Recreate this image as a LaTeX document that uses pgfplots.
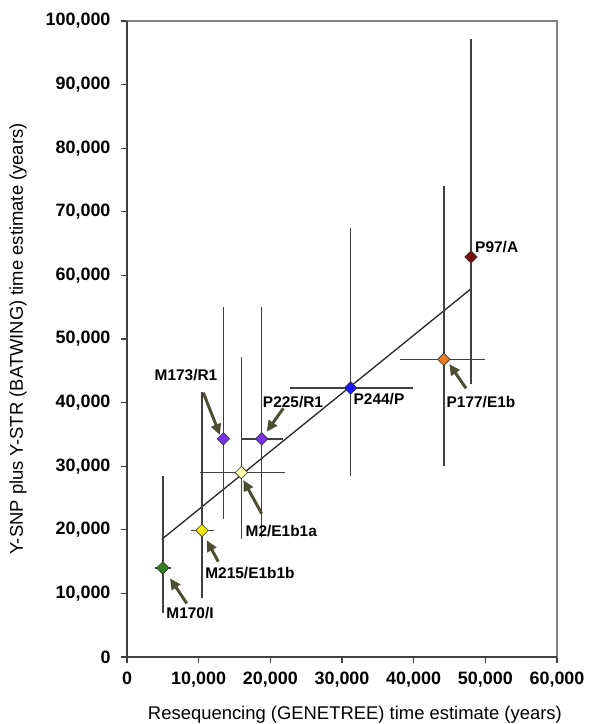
\documentclass[border=0pt]{standalone}
\usepackage{fontspec}
\setmainfont{Liberation Sans}
\usepackage{pgfplots}
\pgfplotsset{compat=1.18}
\usetikzlibrary{arrows.meta}
\definecolor{arrowc}{RGB}{78,78,52}
\definecolor{cgreen}{RGB}{50,125,30}
\definecolor{cyellow}{RGB}{245,232,10}
\definecolor{cpale}{RGB}{255,255,175}
\definecolor{cpurple}{RGB}{120,50,225}
\definecolor{cblue}{RGB}{25,25,250}
\definecolor{corange}{RGB}{240,120,30}
\definecolor{cdred}{RGB}{120,12,12}
\begin{document}
\begin{tikzpicture}
\useasboundingbox (-127bp,-67bp) rectangle (462bp,657bp);
\begin{axis}[
  at={(0,0)}, anchor=south west,
  scale only axis, width=430bp, height=636bp,
  xmin=0, xmax=60000, ymin=0, ymax=100000,
  scaled ticks=false,
  xtick={0,10000,20000,30000,40000,50000,60000},
  xticklabels={0,{10,000},{20,000},{30,000},{40,000},{50,000},{60,000}},
  ytick={0,10000,20000,30000,40000,50000,60000,70000,80000,90000,100000},
  yticklabels={0,{10,000},{20,000},{30,000},{40,000},{50,000},{60,000},{70,000},{80,000},{90,000},{100,000}},
  tick align=outside, tick pos=left, major tick length=6bp,
  tick style={black!75, line width=1.2bp},
  axis line style={black!50, line width=1.2bp},
  ticklabel style={font=\bfseries\fontsize{18}{20}\selectfont, text=black},
  yticklabel style={xshift=-7bp},
  xticklabel style={yshift=-5bp},
  xlabel={Resequencing (GENETREE) time estimate (years)},
  ylabel={Y-SNP plus Y-STR (BATWING) time estimate (years)},
  label style={font=\fontsize{18.5}{21}\selectfont},
  xlabel style={at={(axis description cs:0.530,-0.0912)}, anchor=center},
  ylabel style={at={(axis description cs:-0.2535,0.5)}, anchor=center},
  clip=false,
]
% axis emphasis (left and bottom)
\draw[black!75, line width=2bp] (rel axis cs:0,1) -- (rel axis cs:0,0) -- (rel axis cs:1,0);

% regression line
\addplot[black!85, line width=1.3bp] coordinates {(4850,18500) (47900,57800)};

\pgfplotsset{myerr/.style={only marks, mark=square*, mark size=4.4bp,
   error bars/.cd, x dir=both, y dir=both, x explicit, y explicit, error mark=none,
   error bar style={black!75, line width=1.5bp}, /pgfplots/.cd}}

% M170/I
\addplot[myerr, mark options={rotate=45, fill=cgreen, draw=black!80, line width=0.6bp}]
  coordinates {(5000,14000) += (1200,14400) -= (1100,7100)};
% M215/E1b1b
\addplot[myerr, mark options={rotate=45, fill=cyellow, draw=black!80, line width=0.6bp}]
  coordinates {(10470,19900) += (1630,21800) -= (1470,10600)};
% M173/R1
\addplot[myerr, mark options={rotate=45, fill=cpurple, draw=black!80, line width=0.6bp}]
  coordinates {(13450,34300) += (0,20700) -= (0,12600)};
% M2/E1b1a
\addplot[myerr, mark options={rotate=45, fill=cpale, draw=black!80, line width=0.6bp}]
  coordinates {(15970,29000) += (6130,18200) -= (5770,10500)};
% P225/R1
\addplot[myerr, mark options={rotate=45, fill=cpurple, draw=black!80, line width=0.6bp}]
  coordinates {(18800,34300) += (3000,20700) -= (2800,15500)};
% P244/P
\addplot[myerr, mark options={rotate=45, fill=cblue, draw=black!80, line width=0.6bp}]
  coordinates {(31200,42300) += (8700,25100) -= (8400,13900)};
% P177/E1b
\addplot[myerr, mark options={rotate=45, fill=corange, draw=black!80, line width=0.6bp}]
  coordinates {(44200,46800) += (5800,27200) -= (6100,16700)};
% P97/A
\addplot[myerr, mark options={rotate=45, fill=cdred, draw=black!80, line width=0.6bp}]
  coordinates {(48000,62900) += (500,34200) -= (500,19900)};

% arrows
\tikzset{pa/.style={arrowc, line width=3bp, -{Triangle[length=11bp,width=10bp]}}}
\draw[pa] (axis cs:10647,41557) -- (axis cs:12977,34906);
\draw[pa] (axis cs:21809,39104) -- (axis cs:19493,35424);
\draw[pa] (axis cs:18795,22531) -- (axis cs:16228,27830);
\draw[pa] (axis cs:12740,14984) -- (axis cs:11121,18349);
\draw[pa] (axis cs:8330,8443) -- (axis cs:6000,12374);
\draw[pa] (axis cs:47302,42248) -- (axis cs:44972,46069);

% labels
\tikzset{pl/.style={font=\bfseries\fontsize{15.5}{17}\selectfont, inner sep=0pt}}
\node[pl] at (axis cs:8233,44340) {M173/R1};
\node[pl] at (axis cs:23163,40142) {P225/R1};
\node[pl] at (axis cs:21530,19874) {M2/E1b1a};
\node[pl] at (axis cs:17163,13255) {M215/E1b1b};
\node[pl] at (axis cs:8791,6871) {M170/I};
\node[pl] at (axis cs:35163,40519) {P244/P};
\node[pl] at (axis cs:49395,40142) {P177/E1b};
\node[pl] at (axis cs:51586,64513) {P97/A};
\end{axis}
\end{tikzpicture}
\end{document}
